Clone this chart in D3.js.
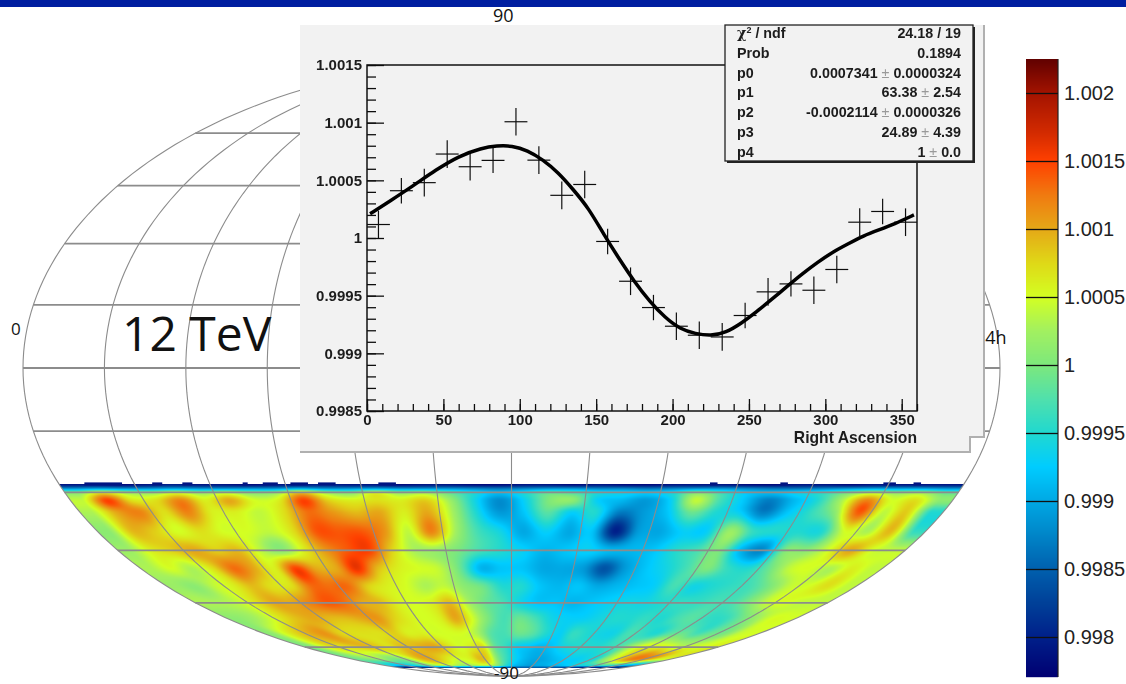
<!DOCTYPE html>
<html>
<head>
<meta charset="utf-8">
<script src="https://cdn.jsdelivr.net/npm/d3@7"></script>
<style>
    html, body { margin: 0; padding: 0; background: #fff; overflow: hidden; }
    svg { display: block; }
    .root text { font-family: "Liberation Sans", Arial, sans-serif; font-weight: bold; fill: #1c1c1c; }
    .root .domain { display: none; }
    .root text.label { font-family: "Open Sans", sans-serif; fill: #111; }
</style>
</head>
<body>
<script>
// projection fit result, right ascension in degrees
var mapLon = [5, 15, 25, 35, 45, 55, 65, 75, 85, 95, 105, 115, 125, 135, 145, 155, 165, 175,
              185, 195, 205, 215, 225, 235, 245, 255, 265, 275, 285, 295, 305, 315, 325, 335, 345, 355];
var mapDec = [-28, -29, -30, -32, -35, -40, -45, -50, -55, -60, -65, -70, -75, -80, -83, -84];

// excess per row, in units of 1e-4 around 1
var dec28 = [-21,-21,-22,-21,-20,-21,-21,-22,-21,-21,-20,-21,-21,-22,-21,-21,-22,-22,-21,-21,-22,-21,-22,-22,-21,-21,-21,-22,-22,-21,-21,-22,-21,-21,-21,-21];
var dec29 = [-12,-11,-12,-12,-11,-12,-12,-12,-12,-10,-12,-12,-11,-12,-12,-12,-13,-14,-13,-12,-12,-13,-13,-14,-13,-12,-12,-13,-14,-14,-13,-12,-11,-11,-11,-12];
var dec30 = [0,6,2,1,4,1,3,0,1,8,2,0,5,1,2,-2,-6,-9,-6,-2,-3,-6,-7,-8,-6,0,-4,-8,-9,-7,-5,-1,3,1,2,-2];
var dec32 = [4,15,7,7,12,6,10,5,6,15,8,6,7,6,8,2,-6,-12,-7,0,1,-7,-9,-11,-7,4,-3,-8,-13,-9,-5,3,12,5,7,1];
var dec35 = [3,10,12,7,12,6,6,4,7,13,11,9,10,6,10,3,-5,-11,-8,-2,-7,-5,-13,-11,-8,-1,-5,-7,-13,-8,-4,1,14,4,8,-5];
var dec40 = [1,9,8,5,7,5,5,4,7,14,14,14,11,4,12,3,-3,-6,-10,-7,-10,-8,-20,-11,-10,-7,-7,2,-4,-5,-5,-5,5,3,9,-4];
var dec45 = [2,6,8,10,8,9,4,1,6,11,14,15,8,3,2,0,-3,-5,-7,-9,-8,-7,-9,-9,-8,-5,-3,0,-9,-12,0,1,5,10,5,4];
var dec50 = [3,5,3,7,13,10,6,15,10,10,16,9,6,5,4,-1,-9,-8,-8,-10,-10,-11,-16,-11,-8,-6,-3,0,-4,-5,-1,4,5,3,6,4];
var dec55 = [2,1,4,6,9,7,7,13,13,13,8,6,5,3,4,1,-1,-5,-5,-8,-9,-8,-10,-9,-8,-7,-3,-6,-5,-4,-3,0,4,5,7,4];
var dec60 = [3,3,4,7,10,10,12,14,13,10,9,6,5,6,9,3,-1,-3,-6,-8,-8,-9,-8,-7,-6,-6,-5,-4,-4,-3,-3,0,4,5,4,4];
var dec65 = [1,2,4,7,9,10,9,9,10,11,8,6,5,6,10,5,0,-3,-1,-3,-6,-7,-7,-6,-5,-5,-4,-5,-3,-2,-4,-4,-1,2,5,5];
var dec70 = [1,5,8,10,11,8,7,7,7,8,6,6,5,5,5,3,-2,-3,-1,-2,-5,-7,-4,-5,-6,-6,-3,-4,-5,-2,-1,-3,-1,0,4,5];
var dec75 = [0,4,7,7,8,9,8,7,9,9,10,10,7,5,6,7,-1,-4,-7,-8,-9,-8,-6,-5,-5,-5,-4,-2,3,6,6,6,4,5,5,6];
var dec80 = [-1,0,1,2,0,0,3,8,10,9,7,5,5,6,9,7,0,-4,-7,-9,-10,-10,-9,-8,-7,-7,-6,-5,1,5,9,12,12,10,6,5];
var dec83 = [-6,-8,-9,-8,-6,-3,0,2,3,3,2,1,2,3,3,2,-2,-6,-9,-10,-11,-10,-10,-9,-9,-8,-7,-6,-6,-5,-4,-4,-6,-8,-10,-11];
var dec84 = [-20,-20,-20,-19,-18,-17,-16,-16,-15,-15,-15,-15,-15,-15,-15,-15,-15,-15,-15,-15,-15,-15,-15,-15,-16,-16,-17,-18,-19,-20,-20,-20,-20,-20,-19,-19];
var mapRows = [dec28, dec29, dec30, dec32, dec35, dec40, dec45, dec50, dec55, dec60, dec65, dec70, dec75, dec80, dec83, dec84];

// little dark steps on the upper edge of the map, from/to RA
var rimFrom = [10, 37, 49, 73, 81, 92, 103, 127, 259, 287, 328, 340];
var rimTo = [25, 41, 53, 75, 87, 99, 110, 134, 262, 290, 333, 343];

// profile inset
var binRA = [7.5, 22.5, 37.5, 52.5, 67.5, 82.5, 97.5, 112.5, 127.5, 142.5, 157.5, 172.5,
             187.5, 202.5, 217.5, 232.5, 247.5, 262.5, 277.5, 292.5, 307.5, 322.5, 337.5, 352.5];
var binValue = [1.000117, 1.00041, 1.00048, 1.000728, 1.000618, 1.000673, 1.001008, 1.000675, 1.00037, 1.000464, 0.99997, 0.999625,
                0.999397, 0.999235, 0.999157, 0.999142, 0.999328, 0.999533, 0.999602, 0.999547, 0.999727, 1.000137, 1.00023, 1.000137];
var binError = [0.00012, 0.00011, 0.00012, 0.00012, 0.00012, 0.00011, 0.00012, 0.00012, 0.00012, 0.00012, 0.00011, 0.00012,
                0.00011, 0.00012, 0.00012, 0.00012, 0.00011, 0.00012, 0.00011, 0.00012, 0.00012, 0.00012, 0.00011, 0.00012];
var fitRA = [2, 15, 30, 45, 60, 75, 85, 95, 105, 115, 125, 135, 145, 155, 165, 175, 185, 195, 205, 215, 225,
             235, 245, 255, 265, 275, 285, 295, 305, 315, 325, 335, 345, 358];
var fitValue = [1.00021, 1.00032, 1.00045, 1.00059, 1.00071, 1.00078, 1.0008, 1.0008, 1.00076, 1.00068, 1.00057, 1.00042,
                1.00026, 1.00003, 0.99982, 0.99962, 0.99945, 0.99931, 0.99921, 0.99917, 0.99915,
                0.99918, 0.99926, 0.99936, 0.99947, 0.99958, 0.99969, 0.99979, 0.99988, 0.99995, 1.00002, 1.00007, 1.00012, 1.0002];
var profileYTicks = [0.9985, 0.999, 0.9995, 1, 1.0005, 1.001, 1.0015];
var profileXTicks = [0, 50, 100, 150, 200, 250, 300, 350];

var statNames = ["Prob", "p0", "p1", "p2", "p3", "p4"];
var statValues = ["0.1894", "0.0007341", "63.38", "-0.0002114", "24.89", "1"];
var statErrors = ["", "0.0000324", "2.54", "0.0000326", "4.39", "0.0"];

var scaleTicks = [0.998, 0.9985, 0.999, 0.9995, 1, 1.0005, 1.001, 1.0015, 1.002];
var colorStops = [-22.9, -20, -17.5, -15, -12.5, -10, -7.5, -5, -2.5, 0, 2.5, 5, 7.5, 10, 12.5, 15, 17, 20, 22.6];
var colorRange = ["#000072", "#00208a", "#004098", "#0060ae", "#0085c8", "#00a8e4", "#00ccff", "#20d8d0", "#50e0ac", "#7de87c",
                  "#a2f060", "#d3ff22", "#dfd817", "#e5a817", "#f07a10", "#ff4000", "#d42b00", "#a31300", "#5e0000"];

var width = 1126, height = 684;
var color = d3.scaleLinear().domain(colorStops).range(colorRange).clamp(true);

// mollweide, stretched to the ellipse of the picture
var mapX = d3.scaleLinear().domain([0, 360]).range([23, 1000]);
var mapY = d3.scaleLinear().domain([-1, 1]).range([676, 60]);

function thetaOf(dec) {
    var phi = dec * Math.PI / 180, t = phi;
    for (var i = 0; i < 30; i++) {
        var c = Math.cos(t);
        if (Math.abs(c) < 1e-6) break;
        t -= (2 * t + Math.sin(2 * t) - Math.PI * Math.sin(phi)) / (2 + 2 * Math.cos(2 * t));
    }
    return t;
}

function project(ra, theta) {
    return [mapX(180) + (mapX(ra) - mapX(180)) * Math.cos(theta), mapY(Math.sin(theta))];
}

function cubic(a, b, c, d, t) {
    return b + 0.5 * t * (c - a + t * (2 * a - 5 * b + 4 * c - d + t * (3 * (b - c) + d - a)));
}

function pick(list, i) {
    return list[Math.max(0, Math.min(list.length - 1, i))];
}

var colIndex = d3.scaleLinear().domain(mapLon).range(d3.range(mapLon.length)).clamp(true);
var rowIndex = d3.scaleLinear().domain(mapDec).range(d3.range(mapDec.length)).clamp(true);

function sample(ra, dec) {
    var cf = colIndex(ra), rf = rowIndex(dec);
    var c0 = Math.floor(cf), r0 = Math.floor(rf);
    var across = [-1, 0, 1, 2].map(function(k) {
        var row = pick(mapRows, r0 + k);
        return cubic(pick(row, c0 - 1), pick(row, c0), pick(row, c0 + 1), pick(row, c0 + 2), cf - c0);
    });
    return cubic(across[0], across[1], across[2], across[3], rf - r0);
}

function drawMapImage() {
    var top = 478, rows = 200;
    var canvas = document.createElement("canvas");
    canvas.width = width;
    canvas.height = rows;
    var ctx = canvas.getContext("2d");
    var image = ctx.createImageData(width, rows);
    var cx = mapX(180), half = mapX(360) - cx;
    for (var py = 0; py < rows; py++) {
        var s = mapY.invert(top + py + 0.5);
        if (Math.abs(s) >= 1) continue;
        var theta = Math.asin(s);
        var dec = Math.asin((2 * theta + Math.sin(2 * theta)) / Math.PI) * 180 / Math.PI;
        if (dec > -28 || dec < -84.5) continue;
        for (var px = 0; px < width; px++) {
            var u = (px + 0.5 - cx) / (half * Math.cos(theta));
            if (Math.abs(u) > 1) continue;
            var rgb = d3.rgb(color(sample(180 + u * 180, dec)));
            var at = (py * width + px) * 4;
            image.data[at] = rgb.r;
            image.data[at + 1] = rgb.g;
            image.data[at + 2] = rgb.b;
            image.data[at + 3] = 255;
        }
    }
    ctx.putImageData(image, 0, 0);
    return {href: canvas.toDataURL(), top: top, rows: rows};
}

var svg = d3.select("body").append("svg")
    .attr("class", "root")
    .attr("width", width)
    .attr("height", height);

var defs = svg.append("defs");
defs.append("filter").attr("id", "soft")
    .append("feGaussianBlur").attr("stdDeviation", 0.4);

svg.append("rect").attr("width", width).attr("height", height).attr("fill", "#fff");
svg.append("rect").attr("width", width).attr("height", 7).attr("fill", "#001ea0");

// sky map
var map = svg.append("g");
var heat = drawMapImage();
map.append("image")
    .attr("href", heat.href)
    .attr("x", 0).attr("y", heat.top)
    .attr("width", width).attr("height", heat.rows);

map.selectAll(".rim")
    .data(rimFrom)
    .enter().append("rect")
        .attr("class", "rim")
        .attr("x", function(d) { return project(d, thetaOf(-28))[0]; })
        .attr("y", project(0, thetaOf(-28))[1] - 2)
        .attr("width", function(d, i) { return project(rimTo[i], thetaOf(-28))[0] - project(d, thetaOf(-28))[0]; })
        .attr("height", 3)
        .attr("fill", color(-21));

var gridColor = "#8c8c8c";
var parallels = d3.range(-75, 76, 15);
map.selectAll(".parallel")
    .data(parallels)
    .enter().append("line")
        .attr("class", "parallel")
        .attr("x1", function(d) { return project(0, thetaOf(d))[0]; })
        .attr("x2", function(d) { return project(360, thetaOf(d))[0]; })
        .attr("y1", function(d) { return project(0, thetaOf(d))[1]; })
        .attr("y2", function(d) { return project(0, thetaOf(d))[1]; })
        .attr("stroke", gridColor)
        .attr("stroke-width", 1.8);

var thetas = d3.range(-90, 90.5, 1.5).map(function(d) { return d * Math.PI / 180; });
var meridianLine = d3.line();
map.selectAll(".meridian")
    .data(d3.range(0, 361, 30))
    .enter().append("path")
        .attr("class", "meridian")
        .attr("d", function(ra) {
            return meridianLine(thetas.map(function(t) { return project(ra, t); }));
        })
        .attr("fill", "none")
        .attr("stroke", gridColor)
        .attr("stroke-width", 1.1);

function mapLabel(txt, x, y, size) {
    svg.append("text")
        .attr("class", "label")
        .attr("x", x).attr("y", y)
        .attr("font-size", size)
        .style("font-weight", "normal")
        .text(txt);
}
mapLabel("90", 493, 22, 18);
mapLabel("-90", 494, 679, 17);
mapLabel("0", 11, 335, 17);
mapLabel("24h", 975, 344, 18);
mapLabel("12 TeV", 122, 351, 48);

// profile panel on top of the map
var panel = svg.append("g").attr("filter", "url(#soft)");
panel.append("path")
    .attr("d", d3.line()([[300, 25], [984, 25], [984, 437], [970, 437], [970, 453], [300, 453]]) + "Z")
    .attr("fill", "#f2f2f2");
panel.append("path")
    .attr("d", d3.line()([[984, 25], [984, 437], [970, 437], [970, 452], [300, 452]]))
    .attr("fill", "none")
    .attr("stroke", "#b0b0b0")
    .attr("stroke-width", 2);

var xScale = d3.scaleLinear().domain([0, 360]).range([367, 917]);
var yScale = d3.scaleLinear().domain([0.9985, 1.0015]).range([411, 65]);

panel.append("rect")
    .attr("x", 367).attr("y", 65)
    .attr("width", 550).attr("height", 346)
    .attr("fill", "none")
    .attr("stroke", "#111")
    .attr("stroke-width", 1.5);

var minorY = panel.append("g").attr("transform", "translate(367,0)")
    .call(d3.axisLeft(yScale).tickValues(d3.range(0, 31).map(function(i) { return 0.9985 + i * 0.0001; }))
        .tickSize(-9).tickFormat(""));
var majorY = panel.append("g").attr("transform", "translate(367,0)")
    .call(d3.axisLeft(yScale).tickValues(profileYTicks).tickSize(-17).tickPadding(5)
        .tickFormat(function(d) { return String(d); }));
var minorX = panel.append("g").attr("transform", "translate(0,411)")
    .call(d3.axisBottom(xScale).tickValues(d3.range(0, 361, 10)).tickSize(-7).tickFormat(""));
var majorX = panel.append("g").attr("transform", "translate(0,411)")
    .call(d3.axisBottom(xScale).tickValues(profileXTicks).tickSize(-12).tickPadding(3));

panel.selectAll(".tick line").attr("stroke", "#111").attr("stroke-width", 1.3);
panel.selectAll(".tick text").style("font-size", "15px").attr("fill", "#1c1c1c");

panel.append("text")
    .attr("x", 917).attr("y", 443)
    .attr("text-anchor", "end")
    .attr("font-size", 15.7)
    .text("Right Ascension");

var crosses = panel.append("g")
    .selectAll("g")
    .data(binRA)
    .enter().append("g");
crosses.append("line")
    .attr("x1", function(d) { return xScale(Math.max(0, d - 7.5)); })
    .attr("x2", function(d) { return xScale(d + 7.5); })
    .attr("y1", function(d, i) { return yScale(binValue[i]); })
    .attr("y2", function(d, i) { return yScale(binValue[i]); });
crosses.append("line")
    .attr("x1", function(d) { return xScale(d); })
    .attr("x2", function(d) { return xScale(d); })
    .attr("y1", function(d, i) { return yScale(binValue[i] - binError[i]); })
    .attr("y2", function(d, i) { return yScale(binValue[i] + binError[i]); });
crosses.selectAll("line").attr("stroke", "#111").attr("stroke-width", 1.2);

panel.append("path")
    .datum(fitRA)
    .attr("d", d3.line()
        .x(function(d) { return xScale(d); })
        .y(function(d, i) { return yScale(fitValue[i]); })
        .curve(d3.curveBasis))
    .attr("fill", "none")
    .attr("stroke", "#000")
    .attr("stroke-width", 3.5);

// stats box
panel.append("rect").attr("x", 727).attr("y", 27).attr("width", 248).attr("height", 136).attr("fill", "#222");
panel.append("rect").attr("x", 725).attr("y", 25).attr("width", 248).attr("height", 136)
    .attr("fill", "#f2f2f2").attr("stroke", "#222").attr("stroke-width", 1.3);

var statSize = 14.3;
var statTop = panel.append("text").attr("x", 737).attr("y", 38).attr("font-size", statSize);
statTop.append("tspan").style("font-family", "'DejaVu Serif', serif").text("\u03c7");
statTop.append("tspan").attr("dy", -5).attr("font-size", 9).text("2");
statTop.append("tspan").attr("dy", 5).text(" / ndf");
panel.append("text").attr("x", 961).attr("y", 38).attr("text-anchor", "end").attr("font-size", statSize).text("24.18 / 19");

var statRows = panel.append("g").selectAll("g")
    .data(statNames)
    .enter().append("g");
statRows.append("text")
    .attr("x", 737)
    .attr("y", function(d, i) { return 58 + i * 19.7; })
    .attr("font-size", statSize)
    .text(function(d) { return d; });
var statRight = statRows.append("text")
    .attr("x", 961)
    .attr("y", function(d, i) { return 58 + i * 19.7; })
    .attr("text-anchor", "end")
    .attr("font-size", statSize);
statRight.append("tspan").text(function(d, i) { return statValues[i]; });
statRight.append("tspan")
    .style("fill", "#999").style("font-weight", "normal")
    .text(function(d, i) { return statErrors[i] ? " \u00b1 " : ""; });
statRight.append("tspan").text(function(d, i) { return statErrors[i]; });

// colour scale on the right
var barY = d3.scaleLinear().domain([0.998, 1.002]).range([637, 93]);
var bar = svg.append("g");
bar.selectAll("rect")
    .data(d3.range(59, 677))
    .enter().append("rect")
        .attr("x", 1026).attr("y", function(d) { return d; })
        .attr("width", 32).attr("height", 1.2)
        .attr("fill", function(d) { return color((barY.invert(d + 0.5) - 1) * 1e4); });
bar.append("line")
    .attr("x1", 1058).attr("x2", 1058).attr("y1", 59).attr("y2", 677)
    .attr("stroke", "#222").attr("stroke-width", 1.2);
var barAxis = bar.append("g").attr("transform", "translate(1058,0)")
    .call(d3.axisRight(barY).tickValues(scaleTicks).tickSize(-32).tickPadding(6)
        .tickFormat(function(d) { return String(d); }));
barAxis.selectAll(".tick line").attr("stroke", "#111").attr("stroke-width", 1.3);
barAxis.selectAll(".tick text")
    .style("font-size", "20px").style("font-weight", "normal").style("fill", "#222");
</script>
</body>
</html>
